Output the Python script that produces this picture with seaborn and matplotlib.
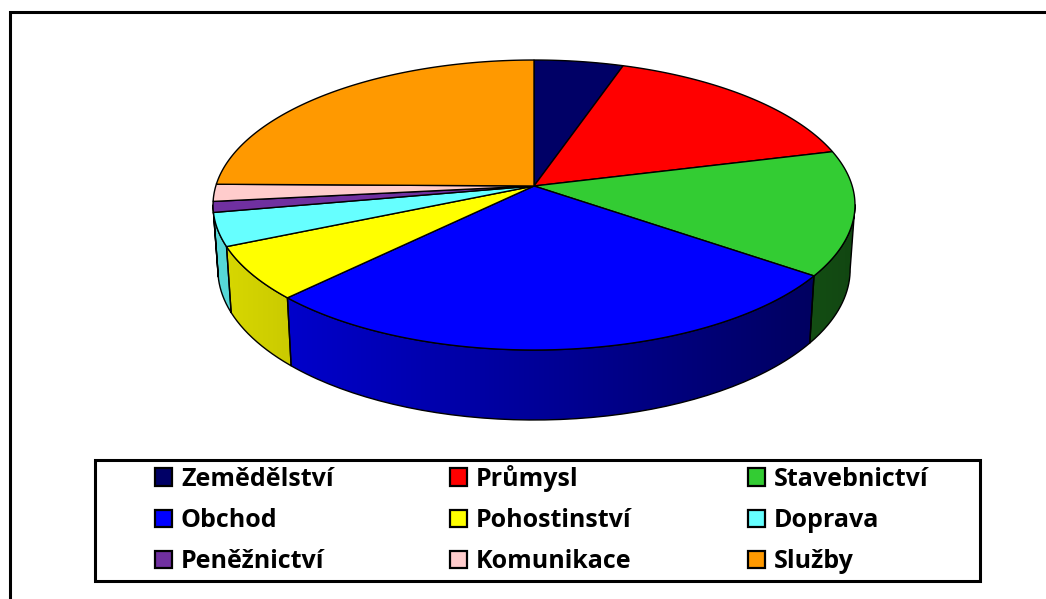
import matplotlib
matplotlib.use('Agg')
import matplotlib.pyplot as plt
from matplotlib.patches import Patch, Rectangle
from matplotlib.path import Path
import seaborn as sns
import numpy as np

categories = ['Zemědělství', 'Průmysl', 'Stavebnictví', 'Obchod', 'Pohostinství',
              'Doprava', 'Peněžnictví', 'Komunikace', 'Služby']
values = [5.1, 15.9, 13.9, 27.5, 6.0, 3.7, 1.2, 1.9, 24.8]
colors = ['#000066', '#ff0000', '#33cc33', '#0000ff', '#ffff00',
          '#66ffff', '#7030a0', '#ffcccc', '#ff9900']

sns.set_theme(style='white')
plt.rcParams['font.family'] = ['Open Sans', 'DejaVu Sans']
palette = sns.color_palette(colors)

W, H = 1046, 599
fig = plt.figure(figsize=(W / 100, H / 100), dpi=100)
ax = fig.add_axes([0, 0, 1, 1])
ax.axis('off')

# axes in pixels, origin at the pie centre
cx, cy = 534, 186
xlim = (-cx, W - cx)
ylim = (cy - H, cy)


def top_rim(t):
    # circle seen in perspective, the back edge is squeezed
    k, sx, sy = 0.1311, 318.2, 142.5
    u, v = np.sin(t), np.cos(t)
    return sx * u / (1 + k * v), sy * v / (1 + k * v)


def bottom_rim(t):
    x, y = top_rim(t)
    return 0.985 * x, 1.039 * y - 63.6


edges = np.cumsum([0] + values) / sum(values) * 2 * np.pi
vis_a, vis_b = np.radians(97.5), np.radians(262.5)
xgrad = np.linspace(xlim[0], xlim[1], 800)

# side walls, only the part that faces the viewer
for i, col in enumerate(palette):
    a = max(edges[i], vis_a)
    b = min(edges[i + 1], vis_b)
    if b <= a:
        continue
    t = np.linspace(a, b, 80)
    xt, yt = top_rim(t)
    xb, yb = bottom_rim(t[::-1])
    pts = np.column_stack([np.r_[xt, xb, xt[0]], np.r_[yt, yb, yt[0]]])
    shade = np.clip(0.6 - 0.255 * xgrad / 321, 0.3, 0.88)
    img = np.outer(shade, np.array(col))[None, :, :]
    im = ax.imshow(img, extent=[xlim[0], xlim[1], ylim[0], ylim[1]], aspect='auto', zorder=0)
    im.set_clip_path(Path(pts), ax.transData)
    ax.plot(pts[:, 0], pts[:, 1], color='black', lw=1, zorder=0.5)

# top face
for i, col in enumerate(palette):
    t = np.linspace(edges[i], edges[i + 1], 120)
    x, y = top_rim(t)
    ax.fill(np.r_[0, x], np.r_[0, y], facecolor=col, edgecolor='black', linewidth=1, zorder=1)

ax.set_aspect('auto')
ax.set_xlim(xlim)
ax.set_ylim(ylim)

# outer frame, runs off the right and bottom of the image
fig.add_artist(Rectangle((9.5 / W, -0.05), 1.1, 1 - 12 / H + 0.05, transform=fig.transFigure,
                         fill=False, edgecolor='black', linewidth=2.2))
# legend box
fig.add_artist(Rectangle((94.5 / W, 1 - 580.5 / H), 885 / W, 121 / H, transform=fig.transFigure,
                         facecolor='white', edgecolor='black', linewidth=2.2, zorder=3))

handles = [Patch(facecolor=c, edgecolor='black', linewidth=1.6) for c in palette]
order = [0, 3, 6, 1, 4, 7, 2, 5, 8]
leg = fig.legend([handles[i] for i in order], [categories[i] for i in order],
                 ncol=3, frameon=False, loc='center left', labelcolor='black',
                 bbox_to_anchor=(135 / W, 1 - 519.5 / H), bbox_transform=fig.transFigure,
                 prop={'size': 18, 'weight': 'bold'},
                 handlelength=0.68, handleheight=0.68, handletextpad=0.36,
                 columnspacing=4.65, labelspacing=0.65, borderpad=0.3)
leg.set_zorder(4)

fig.savefig('out.png', dpi=100)
